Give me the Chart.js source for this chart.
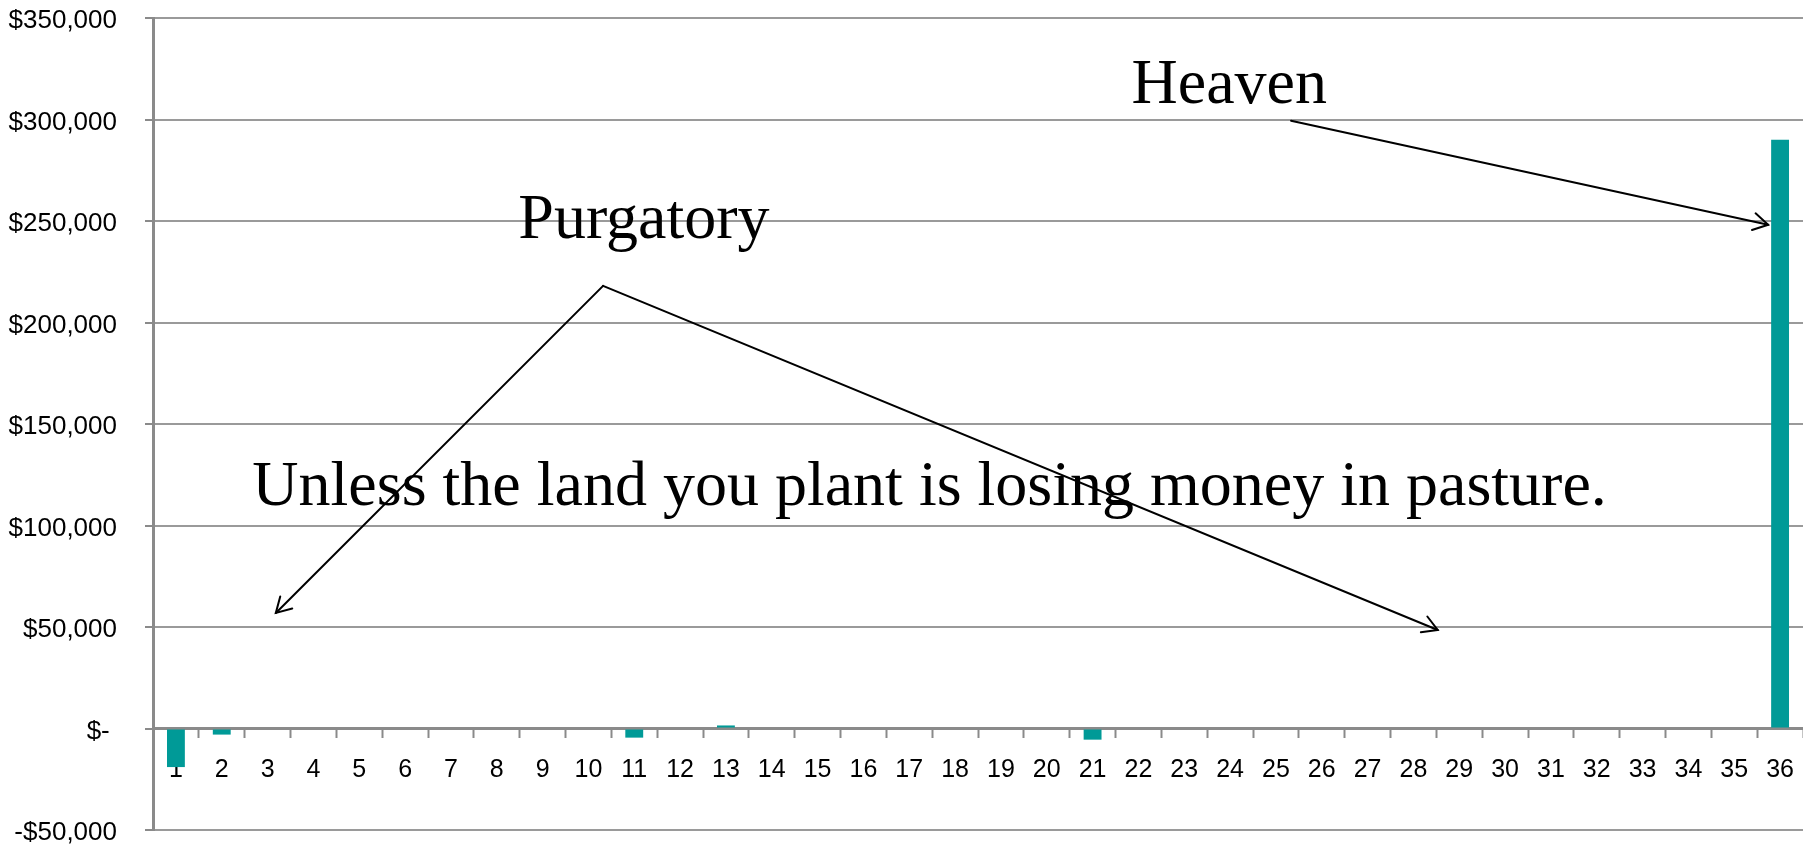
<!DOCTYPE html>
<html>
<head>
<meta charset="utf-8">
<title>Purgatory and Heaven</title>
<script src="https://cdn.jsdelivr.net/npm/chart.js@4.4.1/dist/chart.umd.min.js"></script>
<style>
    html, body { margin: 0; padding: 0; background: #fff; }
    #wrap { width: 1803px; height: 846px; position: relative; }
</style>
</head>
<body>
<div id="wrap"><canvas id="cashChart"></canvas></div>
<script>
// Years along the bottom
const categories = ['1', '2', '3', '4', '5', '6', '7', '8', '9', '10', '11', '12',
    '13', '14', '15', '16', '17', '18', '19', '20', '21', '22', '23', '24',
    '25', '26', '27', '28', '29', '30', '31', '32', '33', '34', '35', '36'];

// Net cash flow per year ($)
const netCash = [-19000, -3000, 0, 0, 0, 0, 0, 0, 0, 0, -4500, 0,
    1500, 0, 0, 0, 0, 0, 0, 0, -5500, 0, 0, 0,
    0, 0, 0, 0, 0, 0, 0, 0, 0, 0, 0, 290000];

const yTickValues = [-50000, 0, 50000, 100000, 150000, 200000, 250000, 300000, 350000];

// Callout texts, anchored at [category index, value] (left / baseline)
const noteTexts = ['Heaven', 'Purgatory', 'Unless the land you plant is losing money in pasture.'];
const noteAnchors = [[20.85, 308250], [7.47, 241700], [1.667, 110100]];

// Arrows, from -> to, in [category index, value]
const arrowPaths = [
    [[24.33, 299350], [34.74, 248130]],
    [[9.32, 218050], [2.18, 56920]],
    [[9.32, 218050], [27.53, 48540]]
];

function money(v) {
    if (v === 0) return '$- ';
    const s = Math.abs(v).toLocaleString('en-US');
    return v < 0 ? '-$' + s : '$' + s;
}

const calloutPlugin = {
    id: 'callouts',
    afterDatasetsDraw(chart) {
        const ctx = chart.ctx;
        const xs = chart.scales.x;
        const ys = chart.scales.y;
        const px = p => [xs.getPixelForValue(p[0]), ys.getPixelForValue(p[1])];

        ctx.save();
        ctx.fillStyle = '#000';
        ctx.font = '64px "Liberation Serif", "Times New Roman", serif';
        ctx.textAlign = 'left';
        ctx.textBaseline = 'alphabetic';
        noteTexts.forEach((t, i) => {
            const [x, y] = px(noteAnchors[i]);
            ctx.fillText(t, x, y);
        });

        ctx.strokeStyle = '#000';
        ctx.lineWidth = 2;
        ctx.lineCap = 'round';
        arrowPaths.forEach(path => {
            const [x1, y1] = px(path[0]);
            const [x2, y2] = px(path[1]);
            ctx.beginPath();
            ctx.moveTo(x1, y1);
            ctx.lineTo(x2, y2);
            ctx.stroke();
            // open arrow head
            const a = Math.atan2(y2 - y1, x2 - x1);
            const len = 17, spread = Math.PI / 6;
            ctx.beginPath();
            ctx.moveTo(x2 - len * Math.cos(a - spread), y2 - len * Math.sin(a - spread));
            ctx.lineTo(x2, y2);
            ctx.lineTo(x2 - len * Math.cos(a + spread), y2 - len * Math.sin(a + spread));
            ctx.stroke();
        });
        ctx.restore();
    }
};

document.addEventListener('DOMContentLoaded', function() {
    const ctx = document.getElementById('cashChart').getContext('2d');
    new Chart(ctx, {
        type: 'bar',
        data: {
            labels: categories,
            datasets: [{
                data: netCash,
                backgroundColor: '#009a97',
                borderWidth: 0,
                categoryPercentage: 1,
                barPercentage: 0.39
            }]
        },
        options: {
            responsive: true,
            maintainAspectRatio: false,
            animation: false,
            layout: {
                padding: { left: 0, right: -3, top: 18, bottom: 16 }
            },
            plugins: {
                legend: { display: false },
                tooltip: { enabled: false }
            },
            scales: {
                x: {
                    position: { y: 0 },
                    afterFit: scale => {
                        scale.height = 0;
                        scale.paddingLeft = 0;
                        scale.paddingRight = 0;
                    },
                    grid: {
                        offset: true,
                        drawOnChartArea: false,
                        drawTicks: true,
                        tickLength: 8,
                        tickColor: '#8a8a8a',
                        tickWidth: 2
                    },
                    border: { display: true, color: '#8a8a8a', width: 3 },
                    ticks: {
                        color: '#000',
                        padding: 19,
                        maxRotation: 0,
                        autoSkip: false,
                        font: { family: '"Liberation Sans", Arial, sans-serif', size: 25 }
                    }
                },
                y: {
                    min: -50000,
                    max: 350000,
                    afterBuildTicks: axis => {
                        axis.ticks = yTickValues.map(v => ({ value: v }));
                    },
                    afterFit: scale => {
                        scale.width = 153;
                        scale.paddingTop = 0;
                        scale.paddingBottom = 0;
                    },
                    grid: {
                        color: '#9a9a9a',
                        lineWidth: 2,
                        drawTicks: true,
                        tickLength: 8,
                        tickColor: '#8a8a8a',
                        tickWidth: 2
                    },
                    border: { display: true, color: '#8a8a8a', width: 3 },
                    ticks: {
                        color: '#000',
                        padding: 28,
                        labelOffset: 3,
                        font: { family: '"Liberation Sans", Arial, sans-serif', size: 26 },
                        callback: v => money(v)
                    }
                }
            }
        },
        plugins: [calloutPlugin]
    });
});
</script>
</body>
</html>
